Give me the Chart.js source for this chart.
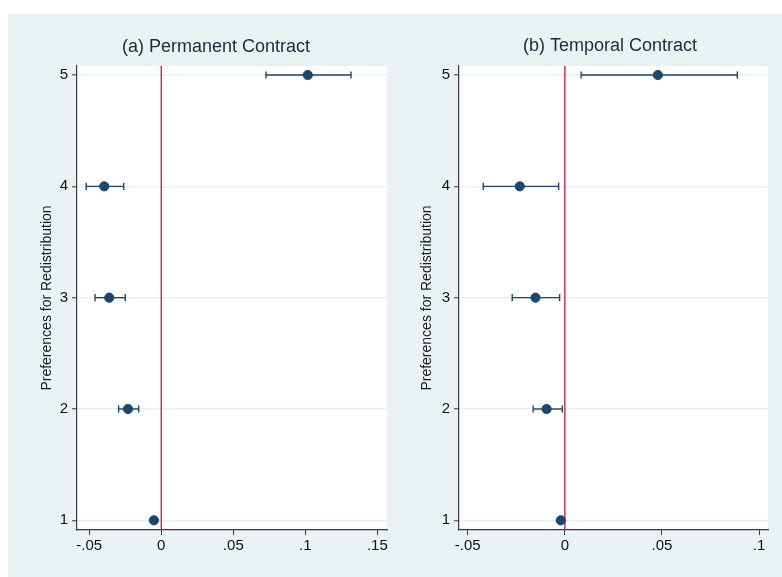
<!DOCTYPE html>
<html>
<head>
<meta charset="utf-8">
<script src="https://cdn.jsdelivr.net/npm/chart.js@4.4.1/dist/chart.umd.min.js"></script>
<style>
  html, body { margin: 0; padding: 0; background: #ffffff; }
  #wrap { position: relative; width: 782px; height: 577px; overflow: hidden; }
  #bg { position: absolute; left: 8px; top: 14px; width: 774px; height: 563px; background: #eaf2f3; }
  canvas { position: absolute; left: 0; top: 0; }
</style>
</head>
<body>
<div id="wrap">
  <div id="bg"></div>
  <canvas id="c1" width="782" height="577"></canvas>
  <canvas id="c2" width="782" height="577"></canvas>
</div>
<script>
// ---- data ----
const categories = [1, 2, 3, 4, 5];
const yTicks = [1, 2, 3, 4, 5];

const permTitle = "(a) Permanent Contract";
const permEst = [-0.0051, -0.0231, -0.0361, -0.0396, 0.1017];
const permLo  = [-0.0060, -0.0296, -0.0460, -0.0521, 0.0727];
const permHi  = [-0.0042, -0.0157, -0.0250, -0.0261, 0.1317];
const permXTicks = [-0.05, 0, 0.05, 0.1, 0.15];
const permXLabels = ["-.05", "0", ".05", ".1", ".15"];

const tempTitle = "(b) Temporal Contract";
const tempEst = [-0.0021, -0.0094, -0.0151, -0.0232, 0.0479];
const tempLo  = [-0.0028, -0.0163, -0.0271, -0.0420, 0.0084];
const tempHi  = [-0.0014, -0.0013, -0.0027, -0.0032, 0.0888];
const tempXTicks = [-0.05, 0, 0.05, 0.1];
const tempXLabels = ["-.05", "0", ".05", ".1"];

const yTitle = "Preferences for Redistribution";

// ---- styles ----
const NAVY = "#1a476f";
const RED = "#d0103a";
const AXIS = "#3a3a3a";
const GRID = "#e6eff1";
const FONT = "'Liberation Sans', Arial, Helvetica, sans-serif";

function buildDatasets(est, lo, hi) {
  const ds = [];
  ds.push({
    data: categories.map((c, i) => ({ x: est[i], y: c })),
    pointRadius: 4.6,
    pointStyle: 'circle',
    pointBackgroundColor: NAVY,
    pointBorderColor: NAVY,
    pointBorderWidth: 1,
    showLine: false,
    order: 0
  });
  categories.forEach((c, i) => {
    ds.push({
      data: [{ x: lo[i], y: c }, { x: hi[i], y: c }],
      showLine: true,
      borderColor: NAVY,
      borderWidth: 1.4,
      pointStyle: 'line',
      rotation: 90,
      pointRadius: 3.6,
      pointBorderColor: NAVY,
      pointBorderWidth: 1.4,
      order: 1
    });
  });
  ds.push({
    data: [{ x: 0, y: 0 }, { x: 0, y: 6 }],
    showLine: true,
    borderColor: RED,
    borderWidth: 1.3,
    pointRadius: 0,
    order: 50
  });
  return ds;
}

const plotBg = {
  id: 'plotBg',
  beforeDraw(chart) {
    const a = chart.chartArea, ctx = chart.ctx;
    ctx.save();
    ctx.fillStyle = '#ffffff';
    ctx.fillRect(a.left, a.top, a.right - a.left, a.bottom - a.top);
    ctx.restore();
  }
};

const panelTitle = {
  id: 'panelTitle',
  afterDraw(chart, args, opts) {
    const ctx = chart.ctx;
    ctx.save();
    ctx.font = '18px ' + FONT;
    ctx.fillStyle = '#1e2a3c';
    ctx.textAlign = 'center';
    ctx.textBaseline = 'middle';
    ctx.fillText(opts.text, opts.x, opts.y);
    ctx.restore();
  }
};

function makeChart(id, cfg) {
  return new Chart(document.getElementById(id), {
    type: 'scatter',
    data: { datasets: buildDatasets(cfg.est, cfg.lo, cfg.hi) },
    plugins: [plotBg, panelTitle],
    options: {
      responsive: false,
      animation: false,
      events: [],
      layout: { padding: cfg.padding },
      plugins: {
        legend: { display: false },
        tooltip: { enabled: false },
        panelTitle: { text: cfg.title, x: cfg.titleX, y: cfg.titleY }
      },
      scales: {
        x: {
          type: 'linear',
          min: cfg.xMin,
          max: cfg.xMax,
          afterBuildTicks: s => { s.ticks = cfg.xTicks.map(v => ({ value: v })); },
          afterFit: s => { s.height = 30; },
          ticks: {
            callback: (v) => { const k = cfg.xTicks.indexOf(v); return k >= 0 ? cfg.xLabels[k] : ''; },
            font: { family: FONT, size: 15 },
            color: '#111111',
            padding: 2,
            maxRotation: 0,
            autoSkip: false
          },
          grid: { display: true, drawOnChartArea: false, tickLength: 5, tickColor: AXIS, tickWidth: 1 },
          border: { display: true, color: AXIS, width: 1.2 }
        },
        y: {
          type: 'linear',
          min: 0.913,
          max: 5.081,
          afterBuildTicks: s => { s.ticks = yTicks.map(v => ({ value: v })); },
          afterFit: s => { s.width = cfg.yWidth; },
          ticks: {
            callback: v => String(v),
            font: { family: FONT, size: 15 },
            color: '#111111',
            padding: 4,
            autoSkip: false
          },
          grid: { display: true, drawOnChartArea: true, color: GRID, lineWidth: 1.5, tickLength: 5, tickColor: AXIS, tickWidth: 1 },
          border: { display: true, color: AXIS, width: 1.2 },
          title: {
            display: true,
            text: yTitle,
            font: { family: FONT, size: 14 },
            color: '#1a1a1a',
            padding: { top: cfg.yTitlePad, bottom: 0 }
          }
        }
      }
    }
  });
}

makeChart('c1', {
  est: permEst, lo: permLo, hi: permHi,
  xTicks: permXTicks, xLabels: permXLabels,
  xMin: -0.0585, xMax: 0.1567,
  padding: { left: 8, right: 395, top: 66, bottom: 17 },
  yWidth: 69, yTitlePad: 30.6,
  title: permTitle, titleX: 216, titleY: 47
});

makeChart('c2', {
  est: tempEst, lo: tempLo, hi: tempHi,
  xTicks: tempXTicks, xLabels: tempXLabels,
  xMin: -0.0545, xMax: 0.1046,
  padding: { left: 390, right: 14, top: 66, bottom: 17 },
  yWidth: 69, yTitlePad: 28.6,
  title: tempTitle, titleX: 610, titleY: 46
});
</script>
</body>
</html>
